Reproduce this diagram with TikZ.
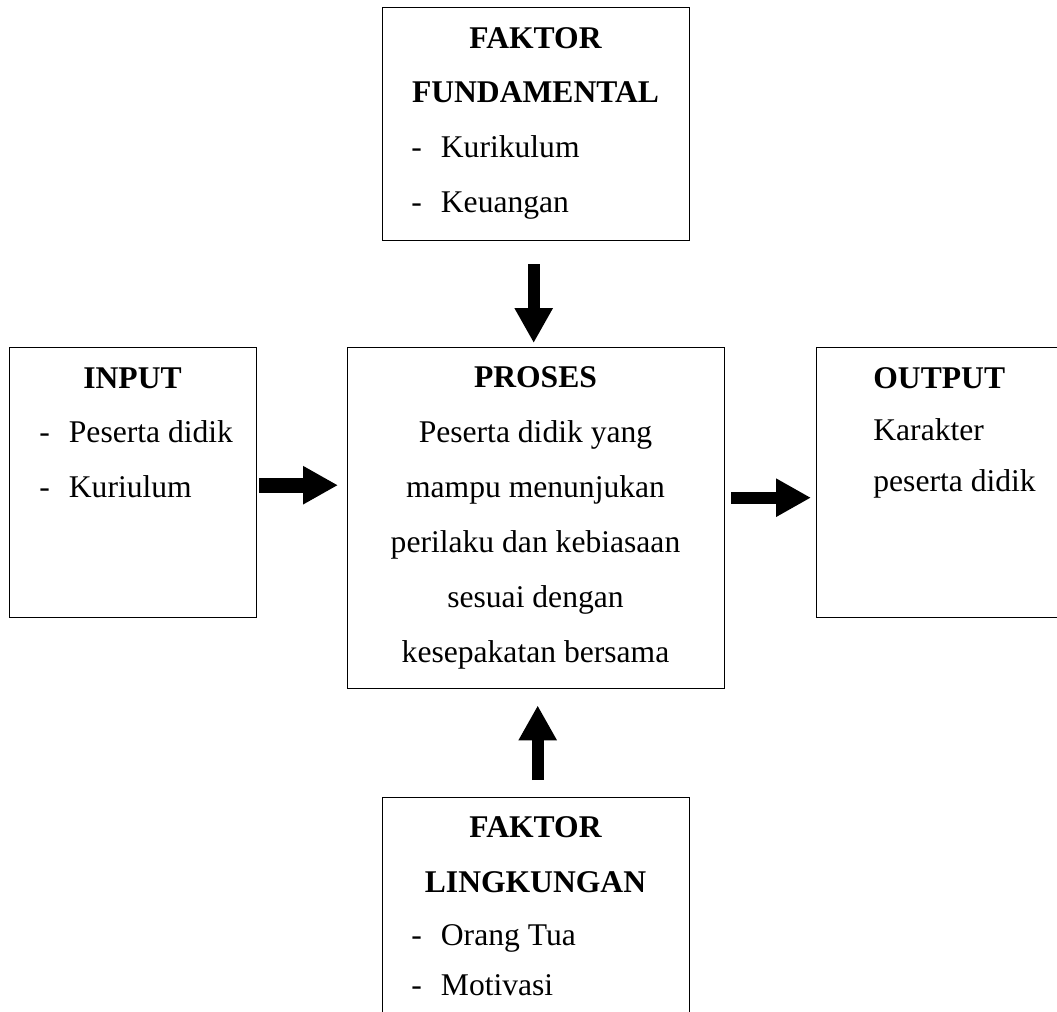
\documentclass[tikz,border=0pt]{standalone}
\usepackage{fontspec}
\setmainfont{Liberation Serif}
\usetikzlibrary{arrows.meta}
\tikzset{
  box/.style={draw,line width=.7pt,inner sep=0pt,anchor=north west},
  txt/.style={inner sep=0pt,font=\fontsize{15.8}{19}\selectfont},
  head/.style={inner sep=0pt,font=\fontsize{15.8}{19}\selectfont\bfseries},
  fat/.style={line width=6pt,-{Triangle[width=18pt,length=17.5pt]}}
}
\newcommand\dashitem[1]{-\hspace{9.5pt}#1}
\begin{document}
\begin{tikzpicture}[x=.5pt,y=-.5pt]
\useasboundingbox (0,0) rectangle (1057,1012);
\clip (0,0) rectangle (1057,1012);
\node[box,minimum width=153.5pt,minimum height=116.5pt] (fund) at (382,7) {};
\node[box,minimum width=123.5pt,minimum height=135pt] (input) at (9,347) {};
\node[box,minimum width=188.5pt,minimum height=170.5pt] (proses) at (347,347) {};
\node[box,minimum width=127pt,minimum height=135pt] (output) at (816,347) {};
\node[box,minimum width=153.5pt,minimum height=116.5pt] (ling) at (382,797) {};
\node[head,anchor=base] (fundA) at (535.5,48) {FAKTOR};
\node[head,anchor=base] (fundB) at (535.5,102) {FUNDAMENTAL};
\foreach \y/\lab [count=\i] in {157/Kurikulum,212/Keuangan}{\node[txt,anchor=base west] (fund-\i) at (411,\y){\dashitem{\lab}};}
\node[head,anchor=base] (inputA) at (132.5,388) {INPUT};
\foreach \y/\lab [count=\i] in {442/Peserta didik,497/Kuriulum}{\node[txt,anchor=base west] (input-\i) at (39,\y){\dashitem{\lab}};}
\node[head,anchor=base] (prosesA) at (535.5,387) {PROSES};
\foreach \y/\lab [count=\i] in {442/Peserta didik yang,497/mampu menunjukan,552/perilaku dan kebiasaan,607/sesuai dengan,662/kesepakatan bersama}{\node[txt,anchor=base] (proses-\i) at (535.5,\y){\lab};}
\node[head,anchor=base west] (outputA) at (873,388) {OUTPUT};
\foreach \y/\lab [count=\i] in {440/Karakter,491/peserta didik}{\node[txt,anchor=base west] (output-\i) at (873,\y){\lab};}
\node[head,anchor=base] (lingA) at (535.5,837) {FAKTOR};
\node[head,anchor=base] (lingB) at (535.5,892) {LINGKUNGAN};
\foreach \y/\lab [count=\i] in {945/Orang Tua,995/Motivasi}{\node[txt,anchor=base west] (ling-\i) at (411,\y){\dashitem{\lab}};}
\draw[fat,shorten <=11.5pt,shorten >=2pt] ([xshift=-1.25pt]fund.south) -- ([xshift=-1.25pt]proses.north);
\draw[fat,shorten <=8.5pt,shorten >=8pt] ([xshift=.75pt]ling.north) -- ([xshift=.75pt]proses.south);
\draw[fat,line width=7.5pt,shorten <=1pt,shorten >=3.5pt] ([yshift=-1.25pt]input.east) -- ([yshift=-1.25pt,xshift=-1pt]input.east -| proses.west);
\draw[fat,shorten <=3pt,shorten >=2.5pt] ([yshift=10.25pt]proses.east) -- ([yshift=10.25pt]proses.east -| output.west);
\end{tikzpicture}
\end{document}
